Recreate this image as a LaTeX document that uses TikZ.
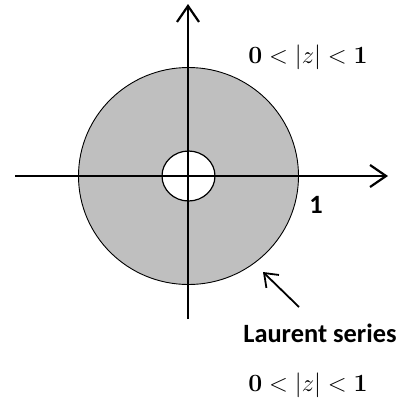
\documentclass[tikz,border=0pt]{standalone}
\usepackage[no-math]{fontspec}
\newfontfamily\carlito{Carlito}
\usetikzlibrary{arrows.meta}
\begin{document}
\begin{tikzpicture}[x=1bp,y=-1bp,
  axis/.style={line width=2.2bp,-{Straight Barb[length=16bp,width=22bp,line width=2.2bp]}},
  lbl/.style={font=\carlito\bfseries\fontsize{26.5}{30}\selectfont, inner sep=0pt},
  mlbl/.style={font=\fontsize{28}{32}\selectfont, inner sep=0pt}]
\useasboundingbox (0,0) rectangle (412,414);
\coordinate (c) at (188.5,176);
\draw[fill=black!25, line width=0.9bp] (c) ellipse [x radius=110, y radius=108.5];
\draw[fill=white, line width=1.2bp] (c) ellipse [x radius=26.5, y radius=25];
\coordinate (xl) at (15,176);
\coordinate (xr) at (388,176);
\coordinate (yb) at (188,319);
\coordinate (yt) at (188,4);
\draw[axis] (xl) -- (xr);
\draw[axis] (yb) -- (yt);
\node[mlbl] (t1) at (308,57) {$\mathbf{0}<|z|<\mathbf{1}$};
\node[lbl] (one) at (316,205) {1};
\node[lbl] (ls) at (320,333) {Laurent series};
\node[mlbl] (t2) at (308,385) {$\mathbf{0}<|z|<\mathbf{1}$};
\coordinate (as) at (299,307);
\coordinate (ae) at (263,272);
\draw[line width=1.8bp,-{Straight Barb[length=12bp,width=18bp,line width=1.8bp]}] (as) -- (ae);
\end{tikzpicture}
\end{document}
